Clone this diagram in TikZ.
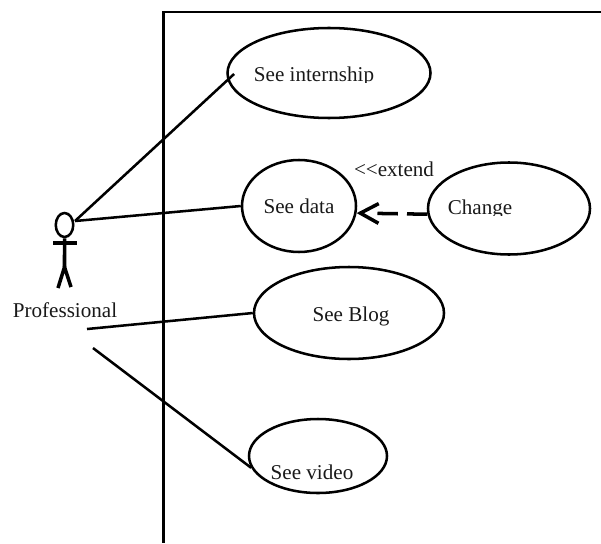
\documentclass[tikz,border=0pt]{standalone}
\usepackage{fontspec}
\setmainfont{Liberation Serif}
\usetikzlibrary{shapes.geometric,arrows.meta}

\begin{document}
\begin{tikzpicture}[scale=0.1,line width=0.72pt]
  \tikzstyle{every node}+=[inner sep=0pt]
  \tikzstyle{usecase}=[draw=black,ellipse]
  \tikzstyle{caption}=[font=\fontsize{6}{7}\selectfont,text=black!90]
  \tikzstyle{limb}=[draw=black,line width=1pt]
  \useasboundingbox (0,0) rectangle (60.1,-54.3);
  % system boundary
  \coordinate (boundtop) at (16.3,-1.2);
  \coordinate (boundright) at (60.1,-1.2);
  \coordinate (boundbottom) at (16.3,-54.3);
  \draw [black,line width=0.85pt] (boundright) -- (boundtop) -- (boundbottom);
  % use cases
  \node [usecase,minimum width=20.3mm,minimum height=9mm] (internship) at (32.9,-7.3) {};
  \begin{scope}
    \clip (24,-5) rectangle (39,-8.25);
    \node [caption] (internshiptext) at (31.4,-7.6) {See internship};
  \end{scope}
  \node [usecase,minimum width=11.4mm,minimum height=9.2mm] (data) at (29.9,-20.6) {};
  \node [caption] (datatext) at (29.9,-20.6) {See data};
  \node [usecase,minimum width=16.2mm,minimum height=9.2mm] (change) at (50.9,-20.85) {};
  \begin{scope}
    \clip (44,-18.5) rectangle (52,-21.55);
    \node [caption] (changetext) at (48,-20.95) {Change};
  \end{scope}
  \node [usecase,minimum width=19mm,minimum height=9.2mm] (blog) at (34.9,-31.3) {};
  \node [caption] (blogtext) at (35.1,-31.6) {See Blog};
  \node [usecase,minimum width=13.8mm,minimum height=7.4mm] (video) at (31.8,-45.6) {};
  \node [caption] (videotext) at (31.2,-47.2) {See video};
  % actor
  \node [draw=black,ellipse,minimum width=1.75mm,minimum height=2.4mm] (head) at (6.45,-22.5) {};
  \coordinate (neck) at (head.south);
  \coordinate (shoulderl) at (5.3,-24.3);
  \coordinate (shoulderr) at (7.7,-24.3);
  \coordinate (hip) at (6.45,-26.7);
  \coordinate (footl) at (5.8,-28.8);
  \coordinate (footr) at (7.1,-28.7);
  \draw [limb] (neck) -- (hip);
  \draw [limb] (shoulderl) -- (shoulderr);
  \draw [limb] (footl) -- (hip) -- (footr);
  \node [caption] (actor) at (6.5,-31) {Professional};
  % associations
  \coordinate (reach) at (7.5,-22.1);
  \coordinate (blogend) at (8.7,-32.9);
  \coordinate (videoend) at (9.3,-34.8);
  \draw [black,shorten >=-0.9mm] (reach) -- (internship.184);
  \draw [black] (reach) -- (data.west);
  \draw [black] (blogend) -- (blog.west);
  \draw [black] (videoend) -- (video.190);
  % extend
  \draw [black,line width=1pt,dash pattern=on 5.8pt off 2.6pt on 5.8pt off 20pt,-{Straight Barb[length=5.2pt,width=5.6pt]}] (change.184) -- (data.-7);
  \node [caption] (extend) at (39.4,-16.9) {<{}<extend};
\end{tikzpicture}
\end{document}
